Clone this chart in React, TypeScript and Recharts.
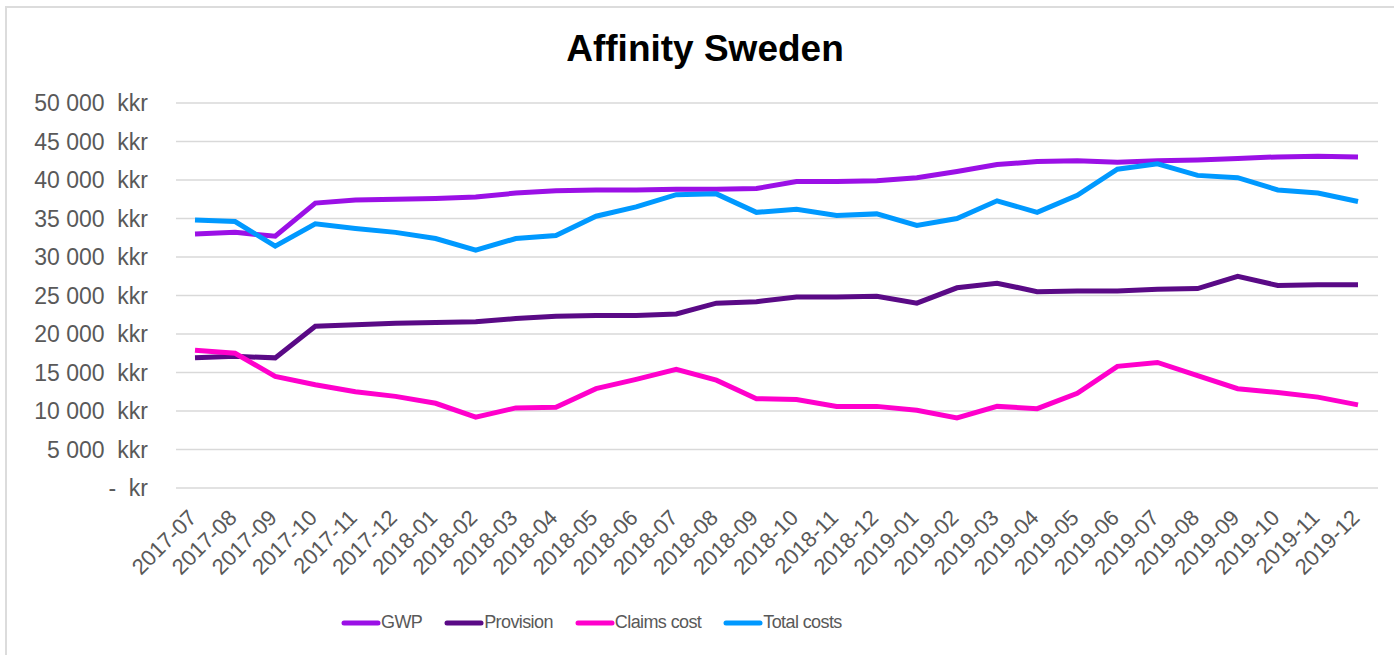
import React from 'react';
import { LineChart, Line, XAxis, YAxis, CartesianGrid, Legend } from 'recharts';

const months = [
  '2017-07', '2017-08', '2017-09', '2017-10', '2017-11', '2017-12',
  '2018-01', '2018-02', '2018-03', '2018-04', '2018-05', '2018-06',
  '2018-07', '2018-08', '2018-09', '2018-10', '2018-11', '2018-12',
  '2019-01', '2019-02', '2019-03', '2019-04', '2019-05', '2019-06',
  '2019-07', '2019-08', '2019-09', '2019-10', '2019-11', '2019-12',
];

const gwp = [
  33000, 33200, 32700, 37000, 37400, 37500, 37600, 37800, 38300, 38600,
  38700, 38700, 38800, 38800, 38900, 39800, 39800, 39900, 40300, 41100,
  42000, 42400, 42500, 42300, 42500, 42600, 42800, 43000, 43100, 43000,
];
const provision = [
  16900, 17100, 16900, 21000, 21200, 21400, 21500, 21600, 22000, 22300,
  22400, 22400, 22600, 24000, 24200, 24800, 24800, 24900, 24000, 26000,
  26600, 25500, 25600, 25600, 25800, 25900, 27500, 26300, 26400, 26400,
];
const claimsCost = [
  17900, 17500, 14500, 13400, 12500, 11900, 11000, 9200, 10400, 10500,
  12900, 14100, 15400, 14000, 11600, 11500, 10600, 10600, 10100, 9100,
  10600, 10300, 12300, 15800, 16300, 14600, 12900, 12400, 11800, 10800,
];
const totalCosts = [
  34800, 34600, 31400, 34300, 33700, 33200, 32400, 30900, 32400, 32800,
  35300, 36500, 38100, 38200, 35800, 36200, 35400, 35600, 34100, 35000,
  37300, 35800, 38000, 41400, 42100, 40600, 40300, 38700, 38300, 37200,
];

const yTicks = [0, 5000, 10000, 15000, 20000, 25000, 30000, 35000, 40000, 45000, 50000];

const series = [
  { key: 'gwp', name: 'GWP', color: '#9B10E6' },
  { key: 'provision', name: 'Provision', color: '#5A0A86' },
  { key: 'claims', name: 'Claims cost', color: '#FF00CC' },
  { key: 'total', name: 'Total costs', color: '#0099FF' },
];

const data = months.map((m, i) => ({
  month: m,
  gwp: gwp[i],
  provision: provision[i],
  claims: claimsCost[i],
  total: totalCosts[i],
}));

const FONT = '"Liberation Sans", Arial, sans-serif';
const NB = '\u00A0';

const formatY = (v: number) => {
  if (v === 0) return '-' + NB + NB + 'kr';
  const s = String(v);
  return s.slice(0, s.length - 3) + NB + s.slice(-3) + NB + NB + 'kkr';
};

const XTick = (props: any) => {
  const { x, y, payload } = props;
  return (
    <g transform={`translate(${x + 3},${y + 23})`}>
      <text textAnchor="end" transform="rotate(-45)" fontSize={22} fill="#595959" fontFamily={FONT}>
        {payload.value}
      </text>
    </g>
  );
};

const LegendContent = () => (
  <div
    style={{
      display: 'flex',
      justifyContent: 'flex-start',
      paddingLeft: 341,
      fontFamily: FONT,
      fontSize: 18,
      letterSpacing: -0.6,
      color: '#595959',
    }}
  >
    {series.map((s) => (
      <div key={s.key} style={{ display: 'flex', alignItems: 'center', marginRight: 22 }}>
        <svg width={40} height={10}>
          <line x1={3} y1={5} x2={37} y2={5} stroke={s.color} strokeWidth={5} strokeLinecap="round" />
        </svg>
        <span>{s.name}</span>
      </div>
    ))}
  </div>
);

export default function App() {
  return (
    <div
      style={{
        position: 'fixed',
        left: 0,
        top: 0,
        width: 1394,
        height: 655,
        overflow: 'hidden',
        background: '#fff',
      }}
    >
      <div
        style={{
          position: 'absolute',
          left: 5,
          top: 6,
          width: 1420,
          height: 700,
          border: '2px solid #dcdcdc',
        }}
      />
      <div
        style={{
          position: 'absolute',
          left: 0,
          width: 1410,
          top: 28,
          textAlign: 'center',
          fontFamily: FONT,
          fontWeight: 'bold',
          fontSize: 37,
          color: '#000',
        }}
      >
        Affinity Sweden
      </div>
      <div style={{ position: 'absolute', left: 0, top: 0 }}>
        <LineChart width={1394} height={655} data={data} margin={{ top: 103, right: 16, left: 0, bottom: 0 }}>
          <CartesianGrid vertical={false} stroke="#d9d9d9" strokeWidth={1.5} />
          <XAxis
            dataKey="month"
            axisLine={false}
            tickLine={false}
            interval={0}
            height={167}
            padding={{ left: 19, right: 20 }}
            tick={<XTick />}
          />
          <YAxis
            domain={[0, 50000]}
            ticks={yTicks}
            width={176}
            axisLine={false}
            tickLine={false}
            tickMargin={22}
            tickFormatter={formatY}
            tick={{ fontSize: 23, fill: '#595959', fontFamily: FONT }}
          />
          <Legend
            layout="horizontal"
            verticalAlign="middle"
            content={<LegendContent />}
            wrapperStyle={{ top: 612, left: 0, width: 1394 }}
          />
          {series.map((s) => (
            <Line
              key={s.key}
              type="linear"
              dataKey={s.key}
              name={s.name}
              stroke={s.color}
              strokeWidth={5}
              dot={false}
              isAnimationActive={false}
            />
          ))}
        </LineChart>
      </div>
    </div>
  );
}
